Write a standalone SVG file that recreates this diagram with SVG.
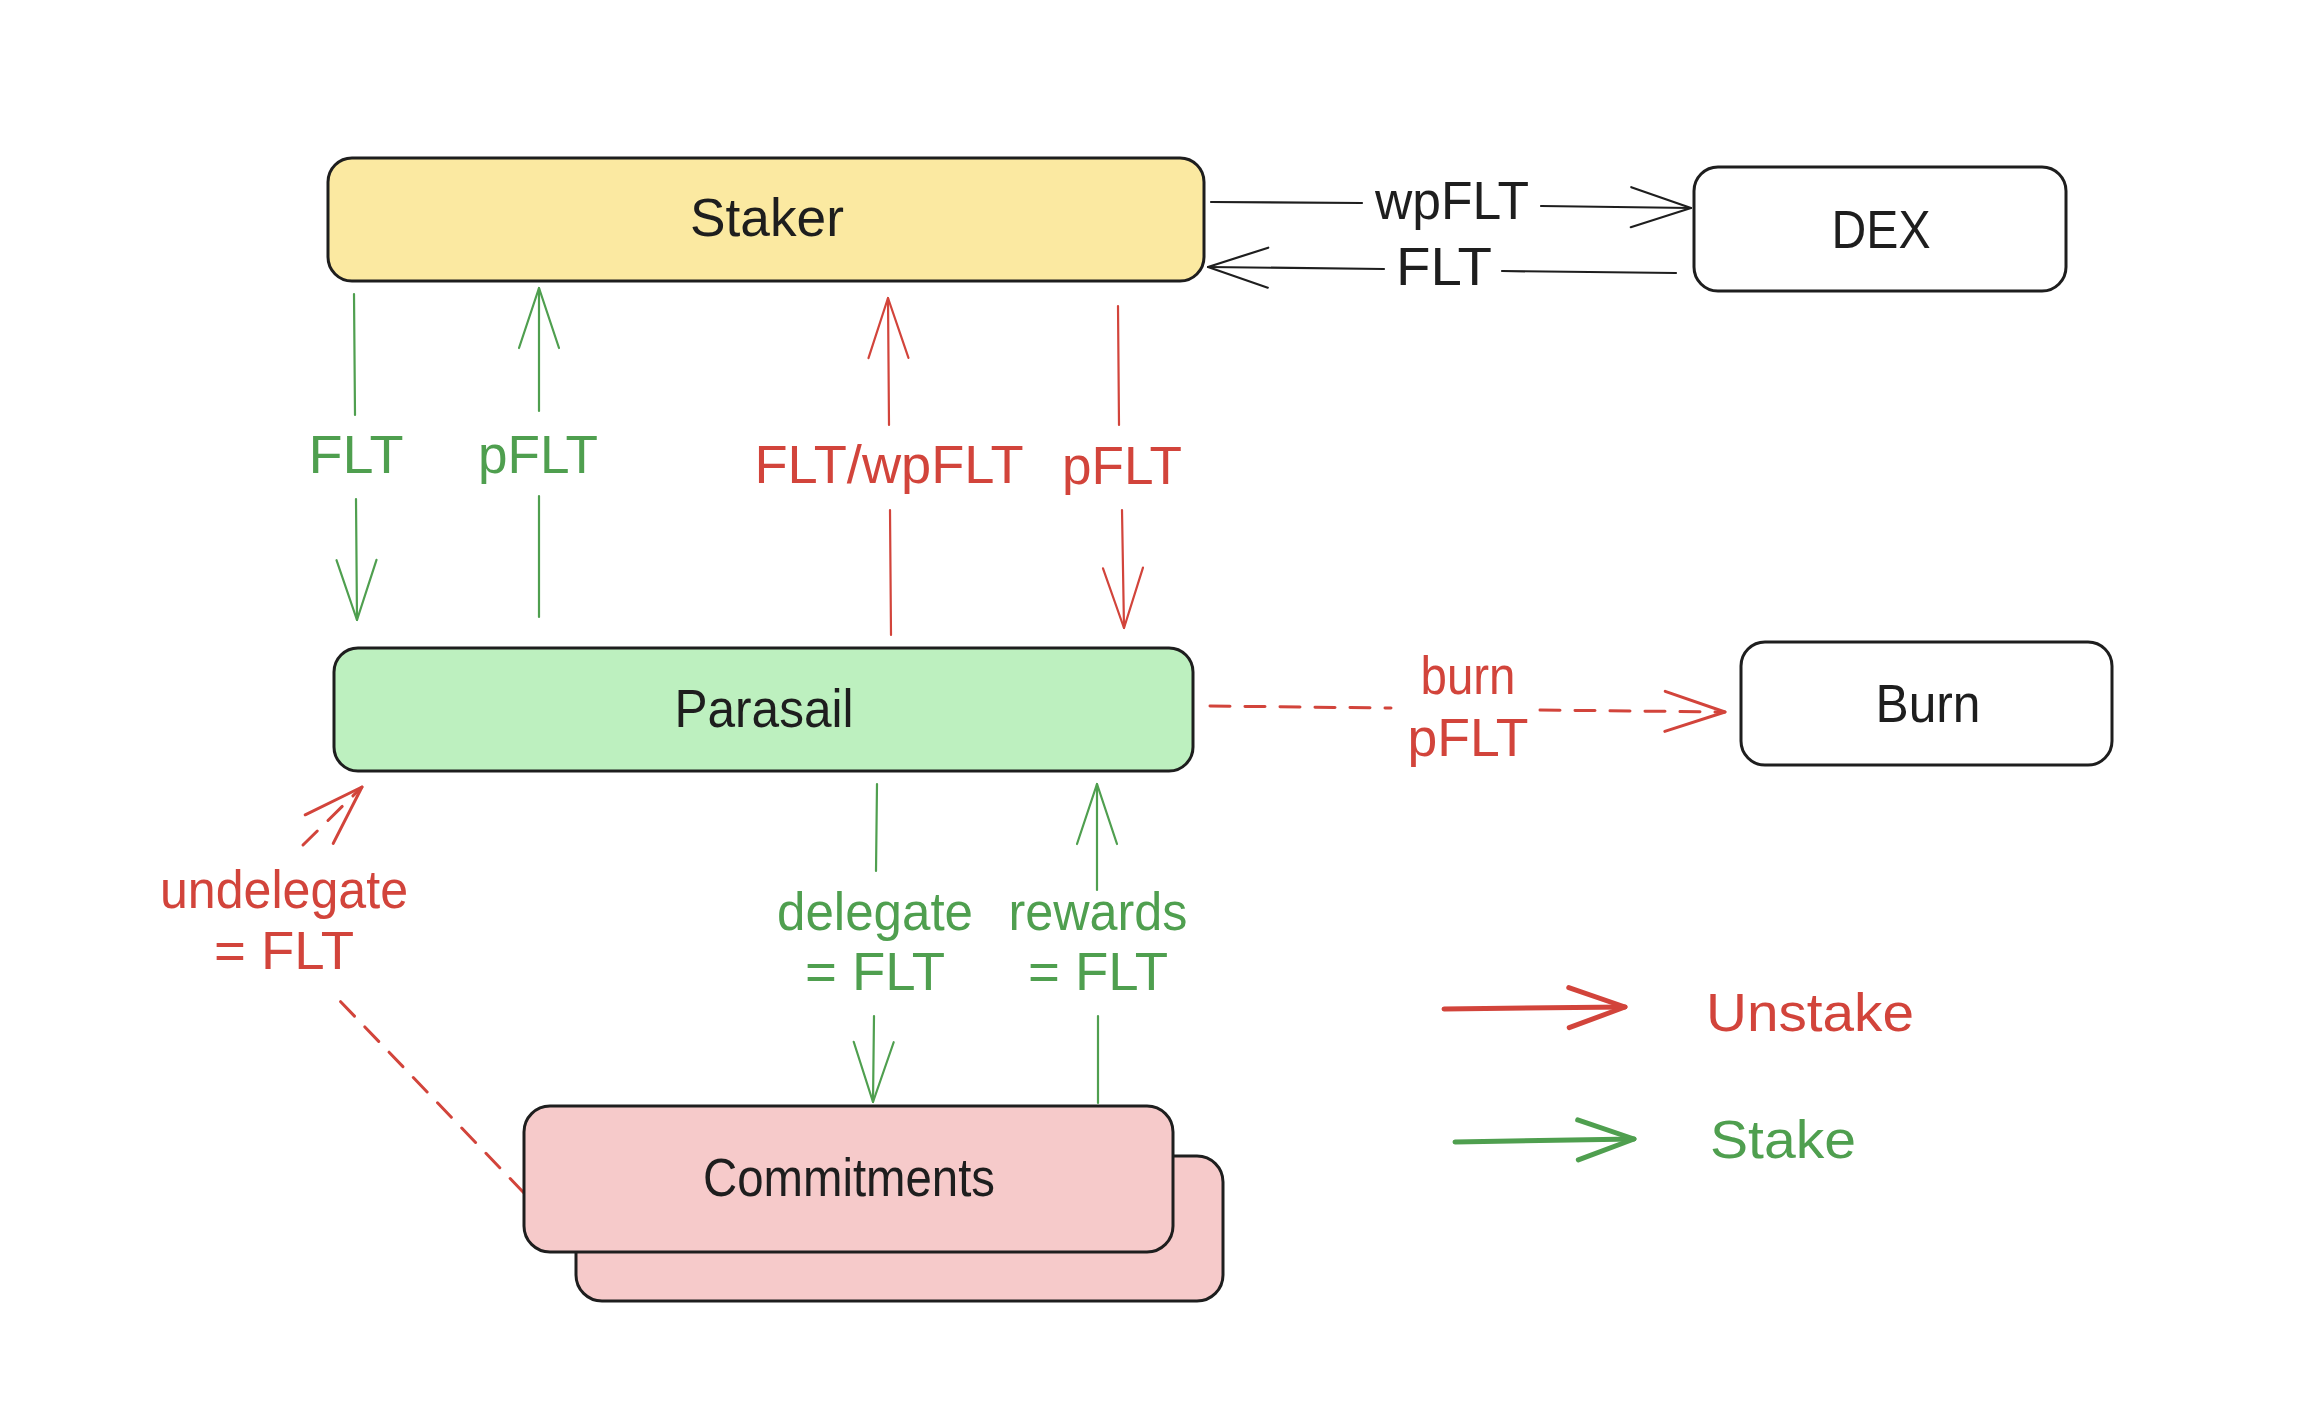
<svg xmlns="http://www.w3.org/2000/svg" width="2316" height="1416" viewBox="0 0 2316 1416">
<defs>
<style>
.bg{fill:#ffffff}
.box{stroke:#1e1e1e;stroke-width:3}
.t{font-family:"Liberation Sans",Arial,sans-serif;font-size:54px;text-anchor:middle}
.tk{fill:#1e1e1e}
.tr{fill:#d2443b}
.tg{fill:#4f9f4f}
.ln{fill:none;stroke-width:2.2;stroke-linecap:round}
.k{stroke:#1e1e1e}
.r{stroke:#d2443b}
.g{stroke:#4f9f4f}
.dash{stroke-dasharray:20 15;stroke-width:3}
.leg{fill:none;stroke-width:5;stroke-linecap:round}
</style>
<marker id="ak" markerUnits="userSpaceOnUse" markerWidth="80" markerHeight="60" refX="0" refY="0" viewBox="-70 -30 80 60" orient="auto" overflow="visible">
<path d="M-60,-20 L0,0 L-60,20" fill="none" stroke="#1e1e1e" stroke-width="2.2" stroke-linecap="round" stroke-linejoin="round"/>
</marker>
<marker id="ar" markerUnits="userSpaceOnUse" markerWidth="80" markerHeight="60" refX="0" refY="0" viewBox="-70 -30 80 60" orient="auto" overflow="visible">
<path d="M-60,-20 L0,0 L-60,20" fill="none" stroke="#d2443b" stroke-width="2.2" stroke-linecap="round" stroke-linejoin="round"/>
</marker>
<marker id="ard" markerUnits="userSpaceOnUse" markerWidth="80" markerHeight="60" refX="0" refY="0" viewBox="-70 -30 80 60" orient="auto" overflow="visible">
<path d="M-60,-20 L0,0 L-60,20" fill="none" stroke="#d2443b" stroke-width="3" stroke-linecap="round" stroke-linejoin="round"/>
</marker>
<marker id="ag" markerUnits="userSpaceOnUse" markerWidth="80" markerHeight="60" refX="0" refY="0" viewBox="-70 -30 80 60" orient="auto" overflow="visible">
<path d="M-60,-20 L0,0 L-60,20" fill="none" stroke="#4f9f4f" stroke-width="2.2" stroke-linecap="round" stroke-linejoin="round"/>
</marker>
<marker id="arL" markerUnits="userSpaceOnUse" markerWidth="80" markerHeight="60" refX="0" refY="0" viewBox="-70 -30 80 60" orient="auto" overflow="visible">
<path d="M-56,-20 L0,0 L-56,20" fill="none" stroke="#d2443b" stroke-width="5" stroke-linecap="round" stroke-linejoin="round"/>
</marker>
<marker id="agL" markerUnits="userSpaceOnUse" markerWidth="80" markerHeight="60" refX="0" refY="0" viewBox="-70 -30 80 60" orient="auto" overflow="visible">
<path d="M-56,-20 L0,0 L-56,20" fill="none" stroke="#4f9f4f" stroke-width="5" stroke-linecap="round" stroke-linejoin="round"/>
</marker>
</defs>
<rect class="bg" x="0" y="0" width="2316" height="1416"/>

<g id="connectors">
<!-- Staker -> DEX wpFLT -->
<path class="ln k" d="M1211,202 L1362,203"/>
<path class="ln k" d="M1541,206 L1691,208" marker-end="url(#ak)"/>
<text class="t tk" x="1452" y="219" textLength="154" lengthAdjust="spacingAndGlyphs">wpFLT</text>
<!-- DEX -> Staker FLT -->
<path class="ln k" d="M1676,273 L1502,271"/>
<path class="ln k" d="M1384,269 L1208,267" marker-end="url(#ak)"/>
<text class="t tk" x="1444" y="285" textLength="96" lengthAdjust="spacingAndGlyphs">FLT</text>
<!-- Staker -> Parasail FLT (green) -->
<path class="ln g" d="M354,294 L355,415"/>
<path class="ln g" d="M356,499 L357,620" marker-end="url(#ag)"/>
<text class="t tg" x="356" y="473" textLength="95" lengthAdjust="spacingAndGlyphs">FLT</text>
<!-- Parasail -> Staker pFLT (green) -->
<path class="ln g" d="M539,617 L539,496"/>
<path class="ln g" d="M539,411 L539,288" marker-end="url(#ag)"/>
<text class="t tg" x="538" y="473" textLength="120" lengthAdjust="spacingAndGlyphs">pFLT</text>
<!-- Parasail -> Staker FLT/wpFLT (red) -->
<path class="ln r" d="M891,635 L890,510"/>
<path class="ln r" d="M889,425 L888,298" marker-end="url(#ar)"/>
<text class="t tr" x="889" y="483" textLength="269" lengthAdjust="spacingAndGlyphs">FLT/wpFLT</text>
<!-- Staker -> Parasail pFLT (red) -->
<path class="ln r" d="M1118,306 L1119,425"/>
<path class="ln r" d="M1122,510 L1124,628" marker-end="url(#ar)"/>
<text class="t tr" x="1122" y="484" textLength="120" lengthAdjust="spacingAndGlyphs">pFLT</text>
<!-- Parasail -> Burn (dashed red) -->
<path class="ln r dash" d="M1210,706 L1391,708"/>
<path class="ln r dash" d="M1540,710 L1725,712" marker-end="url(#ard)"/>
<text class="t tr" x="1468" y="694" textLength="95" lengthAdjust="spacingAndGlyphs">burn</text>
<text class="t tr" x="1468" y="756" textLength="121" lengthAdjust="spacingAndGlyphs">pFLT</text>
<!-- Commitments -> Parasail undelegate (dashed red) -->
<path class="ln r dash" d="M524,1193 L340,1001"/>
<path class="ln r dash" d="M303,845 L362,787" marker-end="url(#ard)"/>
<text class="t tr" x="284" y="908" textLength="248" lengthAdjust="spacingAndGlyphs">undelegate</text>
<text class="t tr" x="284" y="969" textLength="140" lengthAdjust="spacingAndGlyphs">= FLT</text>
<!-- Parasail -> Commitments delegate (green) -->
<path class="ln g" d="M877,784 L876,871"/>
<path class="ln g" d="M874,1016 L873,1102" marker-end="url(#ag)"/>
<text class="t tg" x="875" y="930" textLength="196" lengthAdjust="spacingAndGlyphs">delegate</text>
<text class="t tg" x="875" y="990" textLength="140" lengthAdjust="spacingAndGlyphs">= FLT</text>
<!-- Commitments -> Parasail rewards (green) -->
<path class="ln g" d="M1098,1103 L1098,1016"/>
<path class="ln g" d="M1097,890 L1097,784" marker-end="url(#ag)"/>
<text class="t tg" x="1098" y="930" textLength="179" lengthAdjust="spacingAndGlyphs">rewards</text>
<text class="t tg" x="1098" y="990" textLength="140" lengthAdjust="spacingAndGlyphs">= FLT</text>
</g>

<g id="node-staker">
<rect class="box" x="328" y="158" width="876" height="123" rx="24" fill="#fbe9a1"/>
<text class="t tk" x="767" y="236" textLength="154" lengthAdjust="spacingAndGlyphs">Staker</text>
</g>
<g id="node-dex">
<rect class="box" x="1694" y="167" width="372" height="124" rx="24" fill="#ffffff"/>
<text class="t tk" x="1881" y="248" textLength="99" lengthAdjust="spacingAndGlyphs">DEX</text>
</g>
<g id="node-parasail">
<rect class="box" x="334" y="648" width="859" height="123" rx="24" fill="#bdf0bf"/>
<text class="t tk" x="764" y="727" textLength="179" lengthAdjust="spacingAndGlyphs">Parasail</text>
</g>
<g id="node-burn">
<rect class="box" x="1741" y="642" width="371" height="123" rx="24" fill="#ffffff"/>
<text class="t tk" x="1928" y="722" textLength="105" lengthAdjust="spacingAndGlyphs">Burn</text>
</g>
<g id="node-commitments">
<rect class="box" x="576" y="1156" width="647" height="145" rx="26" fill="#f6caca"/>
<rect class="box" x="524" y="1106" width="649" height="146" rx="26" fill="#f6caca"/>
<text class="t tk" x="849" y="1196" textLength="292" lengthAdjust="spacingAndGlyphs">Commitments</text>
</g>

<g id="legend">
<path class="leg r" d="M1444,1009 L1625,1007" marker-end="url(#arL)"/>
<text class="t tr" x="1706" y="1031" style="text-anchor:start" textLength="208" lengthAdjust="spacingAndGlyphs">Unstake</text>
<path class="leg g" d="M1455,1142 L1634,1139" marker-end="url(#agL)"/>
<text class="t tg" x="1710" y="1158" style="text-anchor:start" textLength="146" lengthAdjust="spacingAndGlyphs">Stake</text>
</g>
</svg>
